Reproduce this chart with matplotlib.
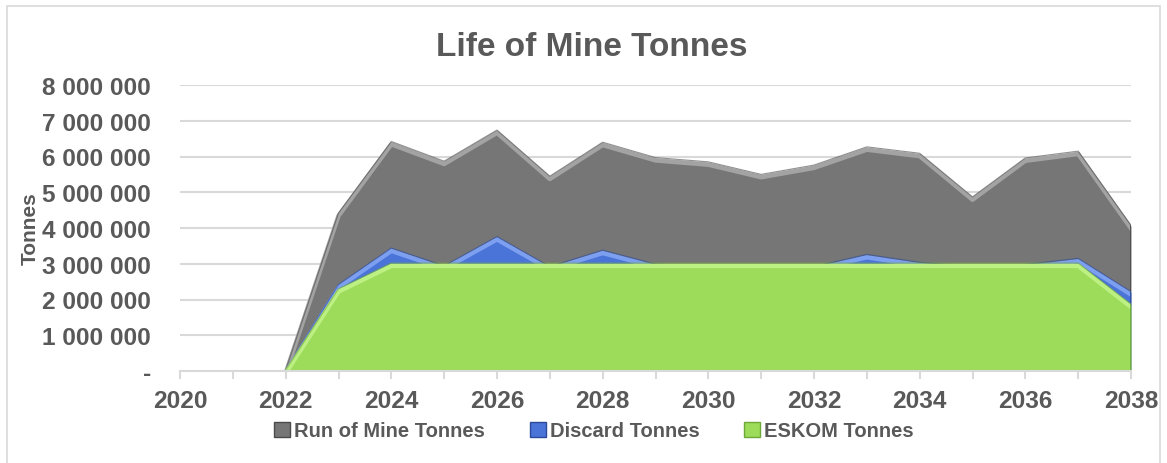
"""Life of mine tonnage profile: overlapping area chart of ROM, discard and ESKOM tonnes."""
import numpy as np
import matplotlib
matplotlib.use("Agg")
import matplotlib.pyplot as plt
from matplotlib.patches import Rectangle
from matplotlib.ticker import FuncFormatter, MultipleLocator

years = list(range(2020, 2039))
rom_tonnes = [0, 0, 0, 4.4e6, 6.4e6, 5.85e6, 6.72e6, 5.43e6, 6.38e6, 5.95e6, 5.83e6,
              5.48e6, 5.74e6, 6.25e6, 6.07e6, 4.85e6, 5.94e6, 6.13e6, 4.05e6]
discard_tonnes = [0, 0, 0, 2.4e6, 3.42e6, 2.92e6, 3.74e6, 2.9e6, 3.36e6, 2.97e6, 2.9e6,
                  2.9e6, 2.9e6, 3.24e6, 3.02e6, 2.9e6, 2.96e6, 3.13e6, 2.2e6]
eskom_tonnes = [0, 0, 0, 2.28e6, 3.0e6, 3.0e6, 3.0e6, 3.0e6, 3.0e6, 3.0e6, 3.0e6,
                3.0e6, 3.0e6, 3.0e6, 3.0e6, 3.0e6, 3.0e6, 3.0e6, 1.85e6]
series_names = ["Run of Mine Tonnes", "Discard Tonnes", "ESKOM Tonnes"]

TEXT = "#595959"
FILLS = ["#767676", "#4a74d8", "#9ddc5a"]
EDGES = ["#a3a3a3", "#7d9ff0", "#bdf083"]
DARKS = ["#4a4a4a", "#2c4a9a", "#6fa83a"]

plt.rcParams["font.family"] = ["Liberation Sans", "DejaVu Sans"]

fig = plt.figure(figsize=(11.67, 4.64), dpi=100)
fig.patches.append(Rectangle((7 / 1167, -0.05), 1153 / 1167, 1 - 7 / 464 + 0.05,
                             transform=fig.transFigure, fill=False,
                             edgecolor="#d9d9d9", linewidth=1.2))
ax = fig.add_axes([180 / 1167, 1 - 372 / 464, 951 / 1167, 286 / 464])

x = np.array(years)
for i, (vals, fc, ec, dc) in enumerate(zip([rom_tonnes, discard_tonnes, eskom_tonnes],
                                            FILLS, EDGES, DARKS)):
    v = np.array(vals)
    z = 2 + i
    ax.fill_between(x, 0, v, color=fc, linewidth=0, zorder=z)
    # bevel: light rim along the top, darker side at the last year
    start = max(int(np.argmax(v > 0)) - 1, 0)
    ax.plot(x[start:], v[start:] - 60000, color=ec, linewidth=3.2,
            solid_joinstyle="round", zorder=z + 0.5)
    ax.plot(x[start:], v[start:] + 20000, color=dc, linewidth=0.8, alpha=0.6, zorder=z + 0.5)
    ax.plot([x[-1], x[-1]], [0, v[-1]], color=dc, linewidth=2, zorder=z + 0.5)

ax.set_xlim(2020, 2038)
ax.set_ylim(0, 8e6)
ax.yaxis.set_major_locator(MultipleLocator(1e6))
ax.yaxis.set_major_formatter(FuncFormatter(
    lambda v, _: "-" if v == 0 else f"{int(v):,}".replace(",", " ")))
ax.xaxis.set_major_locator(MultipleLocator(2))
ax.xaxis.set_minor_locator(MultipleLocator(1))
ax.grid(axis="y", color="#d9d9d9", linewidth=1.5, zorder=0)
ax.set_axisbelow(True)
for side in ["top", "right", "left"]:
    ax.spines[side].set_visible(False)
ax.spines["bottom"].set_color("#d9d9d9")
ax.spines["bottom"].set_linewidth(1.5)
ax.spines["bottom"].set_zorder(6)
ax.tick_params(axis="y", length=0, pad=21, labelsize=17.6, labelcolor=TEXT)
ax.tick_params(axis="x", which="both", direction="out", length=6, width=1.5,
               color="#d9d9d9", labelsize=17.6, labelcolor=TEXT, pad=7)
for lab in ax.get_yticklabels() + ax.get_xticklabels():
    lab.set_fontweight("bold")
ax.set_ylabel("Tonnes", fontsize=15, color=TEXT, fontweight="bold")
ax.yaxis.set_label_coords(-140 / 951, 0.5)

fig.text(592 / 1167, 1 - 48 / 464, "Life of Mine Tonnes", ha="center", va="center",
         fontsize=24, fontweight="bold", color=TEXT)

handles = [Rectangle((0, 0), 1, 1, facecolor=fc, edgecolor=dc, linewidth=1)
           for fc, dc in zip(FILLS, DARKS)]
leg = fig.legend(handles, series_names, loc="center", bbox_to_anchor=(594 / 1167, 1 - 432 / 464),
                 ncol=3, frameon=False, handlelength=0.8, handleheight=0.8,
                 handletextpad=0.2, columnspacing=2.2,
                 prop={"weight": "bold", "size": 14.5})
for t in leg.get_texts():
    t.set_color(TEXT)

fig.savefig("out.png", dpi=100)
